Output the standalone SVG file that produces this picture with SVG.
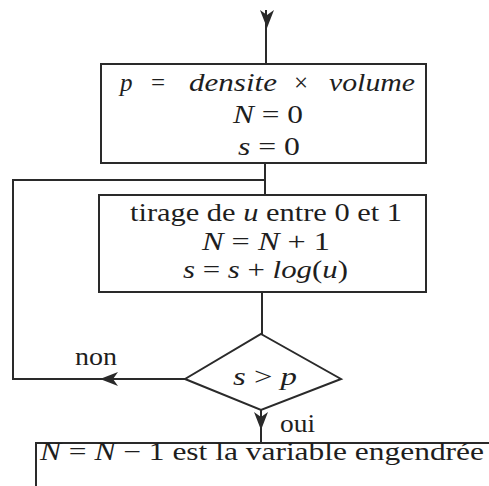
<svg xmlns="http://www.w3.org/2000/svg" width="489" height="486" viewBox="0 0 489 486">
<style>
.ln{fill:none;stroke:#2a2a2a;stroke-width:2;}
.bx{fill:#fff;stroke:#2a2a2a;stroke-width:2;}
.t{font-family:'Liberation Serif','DejaVu Serif',serif;font-size:25px;fill:#1e1e1e;}
.i{font-style:italic;}
.ah{fill:#2a2a2a;stroke:none;}
</style>
<defs>
<path id="ahd" class="ah" d="M0,0 L-7,-18 L0,-13 L7,-18 Z"/>
</defs>
<rect width="489" height="486" fill="#fff"/>
<g id="connectors">
<line class="ln" x1="266" y1="10" x2="266" y2="64"/>
<use href="#ahd" x="267" y="28"/>
<line class="ln" x1="265" y1="163" x2="265" y2="195"/>
<polyline class="ln" points="265,180 13,180 13,379 185,379"/>
<path class="ah" d="M100,379 L118,372 L113,379 L118,386 Z"/>
<line class="ln" x1="262" y1="292" x2="262" y2="334"/>
<line class="ln" x1="261" y1="410" x2="261" y2="443"/>
<use href="#ahd" x="261" y="430"/>
</g>
<g id="init" class="t" font-family="Liberation Serif, serif">
<rect class="bx" x="101" y="64" width="325" height="99"/>
<text y="91"><tspan class="i" x="120">p</tspan><tspan x="151">=</tspan><tspan class="i" x="189" textLength="88" lengthAdjust="spacingAndGlyphs">densite</tspan><tspan x="294">×</tspan><tspan class="i" x="329" textLength="86" lengthAdjust="spacingAndGlyphs">volume</tspan></text>
<text x="233" y="123" textLength="70" lengthAdjust="spacingAndGlyphs"><tspan class="i">N</tspan> = 0</text>
<text x="238" y="155" textLength="62" lengthAdjust="spacingAndGlyphs"><tspan class="i">s</tspan> = 0</text>
</g>
<g id="tirage" class="t" font-family="Liberation Serif, serif">
<rect class="bx" x="99" y="195" width="327" height="97"/>
<text x="130" y="221" textLength="272" lengthAdjust="spacingAndGlyphs">tirage de <tspan class="i">u</tspan> entre 0 et 1</text>
<text x="202" y="250" textLength="128" lengthAdjust="spacingAndGlyphs"><tspan class="i">N</tspan> = <tspan class="i">N</tspan> + 1</text>
<text x="183" y="278" textLength="165" lengthAdjust="spacingAndGlyphs"><tspan class="i">s</tspan> = <tspan class="i">s</tspan> + <tspan class="i">log</tspan>(<tspan class="i">u</tspan>)</text>
</g>
<g id="test" class="t" font-family="Liberation Serif, serif">
<polygon class="bx" points="261,334 341,379 261,410 185,379"/>
<text x="233" y="385" textLength="64" lengthAdjust="spacingAndGlyphs"><tspan class="i">s</tspan> &gt; <tspan class="i">p</tspan></text>
<text x="75" y="365" textLength="42" lengthAdjust="spacingAndGlyphs">non</text>
<text x="280" y="432" textLength="35" lengthAdjust="spacingAndGlyphs">oui</text>
</g>
<g id="result" class="t" font-family="Liberation Serif, serif">
<polyline class="ln" points="36,486 36,443 492,443"/>
<text x="40" y="460" textLength="444" lengthAdjust="spacingAndGlyphs"><tspan class="i">N</tspan> = <tspan class="i">N</tspan> − 1 est la variable engendrée</text>
</g>
</svg>
